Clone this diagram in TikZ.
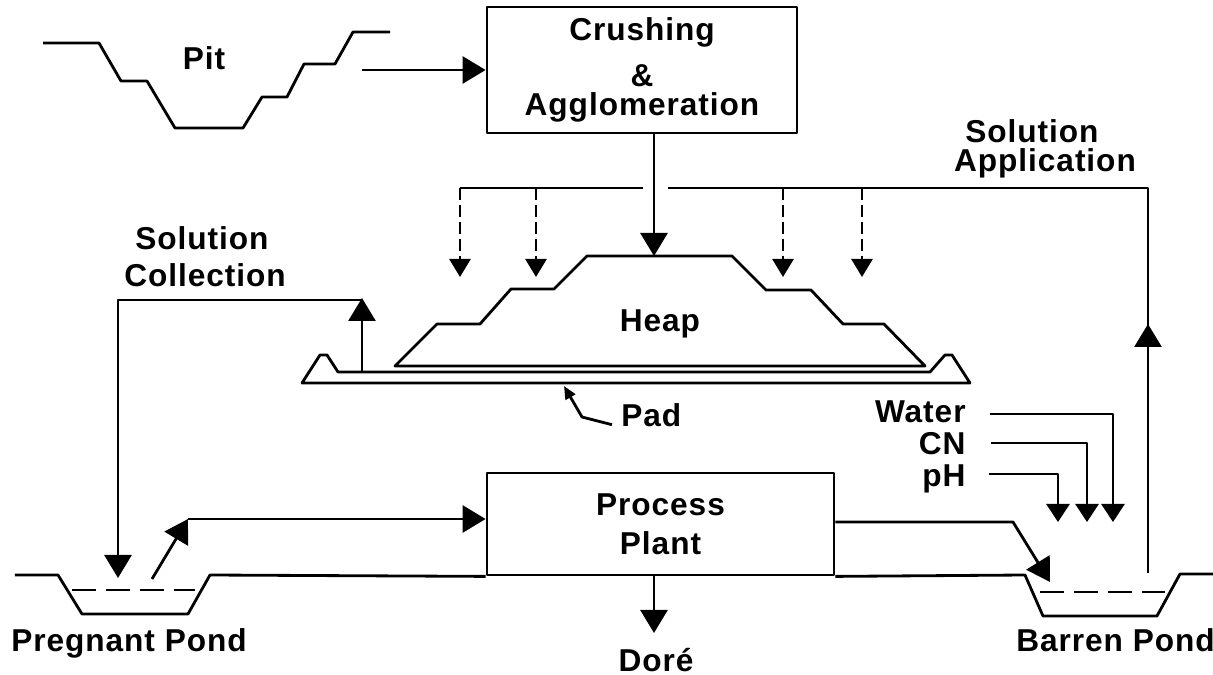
\documentclass[tikz,border=0pt]{standalone}
\usepackage{fontspec}
\setmainfont{Liberation Sans}[LetterSpace=3]
\usetikzlibrary{arrows.meta}
\usetikzlibrary{positioning}

\tikzset{
	lbl/.style={font=\fontsize{9}{10.5}\selectfont\bfseries, inner sep=0pt},
	unit/.style={draw, line width=0.8pt, inner sep=0pt, align=center, font=\fontsize{9}{10.5}\selectfont\bfseries},
	flow/.style={-{Triangle[length=2.3mm,width=2.7mm]}},
	feed/.style={-{Triangle[length=1.8mm,width=2.3mm]}},
	spray/.style={dash pattern=on 1.2mm off 0.5mm, -{Triangle[length=1.8mm,width=2.1mm]}},
	pondwater/.style={dash pattern=on 2.4mm off 1mm},
}

\begin{document}
\begin{tikzpicture}[x=0.1mm, y=-0.1mm, line width=0.8pt, line join=round]
	\useasboundingbox (0,0) rectangle (1213,675);

	% Place nodes
	\node [lbl, anchor=base] (pit) at (204,70) {Pit};
	\node [unit, minimum width=31mm, minimum height=12.6mm] (crush) at (642,70) {Crushing\\[0.9mm]\&\\[-0.8mm]Agglomeration};
	\node [lbl, anchor=base] (heap) at (660,332) {Heap};
	\node [lbl, anchor=base west] (pad) at (620,427) {Pad};
	\node [lbl, anchor=base] (sol1) at (202,250) {Solution};
	\node [lbl, anchor=base] (coll) at (205,287) {Collection};
	\node [lbl, anchor=base] (sol2) at (1032,143) {Solution};
	\node [lbl, anchor=base] (appl) at (1045,172) {Application};
	\node [lbl, anchor=base east] (water) at (967,423) {Water};
	\node [lbl, anchor=base east] (cn) at (967,455) {CN};
	\node [lbl, anchor=base east] (ph) at (967,487) {pH};
	\node [unit, minimum width=34.7mm, minimum height=10.2mm] (plant) at (660.5,524) {Process\\[0.2mm]Plant};
	\node [lbl, anchor=base] (preg) at (129,652) {Pregnant Pond};
	\node [lbl, anchor=base west] (barren) at (1015,652) {Barren Pond};
	\node [lbl, anchor=base] (dore) at (656,672) {Doré};

	\coordinate (pitout) at (362,70);
	\coordinate (heaptop) at (654,256);
	\coordinate (split) at (654,188);
	\coordinate (riser) at (1148,188);
	\coordinate (collect) at (362,372);
	\coordinate (pregin) at (118,578);
	\coordinate (pregout) at (152,579);
	\coordinate (pregup) at (188,519);
	\coordinate (plantout) at (1013,522);
	\coordinate (barrenin) at (1050,582);
	\coordinate (barrenout) at (1148,573);
	\coordinate (doretip) at (654,633);

	% open pit
	\draw (43,43) -- (99,43) -- (121,81) -- (147,81) -- (175,128) -- (243,128) -- (262,97)
		-- (287,97) -- (304,64) -- (335,64) -- (353,32) -- (390,32);

	% heap on its pad
	\draw (395,366) -- (437,324) -- (480,324) -- (511,289) -- (554,289) -- (587,256) -- (732,256)
		-- (766,290) -- (811,290) -- (843,324) -- (884,324) -- (925,366) -- cycle;
	\draw (302,383) -- (320,355) -- (327,355) -- (338,372) -- (930,372) -- (945,355) -- (952,355)
		-- (970,383) -- cycle;
	\draw [-{Triangle[length=1.3mm,width=1.1mm]}] (pad.west) ++(-0.8mm,-0.9mm) -- (582,417) -- (564,386);

	% ground and ponds
	\draw (15,575) -- (58,575) -- (82,614) -- (188,614) -- (210,575) -- (plant.south west);
	\draw (plant.south east) -- (1025,575) -- (1043,616) -- (1157,616) -- (1180,574) -- (1213,574);
	\draw [pondwater] (72,590) -- (195,590);
	\draw [pondwater] (1040,592) -- (1165,592);

	% ore to heap
	\draw [flow] (pitout) -- (crush.west |- pitout);
	\draw [flow] (crush.south -| heaptop) -- (heaptop);

	% solution application
	\draw [flow] (barrenout) -- (1148,324);
	\draw (1148,326) -- (riser) -- (668,188);
	\draw (643,188) -- (460,188);
	\foreach \x in {460,536,783,862}
		\draw [spray] (\x,188) -- (\x,277);

	% solution collection
	\draw [flow] (collect) -- (362,298);
	\draw [flow] (362,300) -- (118,300) -- (pregin);
	\draw [flow] (pregout) -- (pregup);
	\draw [flow] (pregup) -- (plant.west |- pregup);

	% plant to barren pond
	\draw [flow] (plant.east |- plantout) -- (plantout) -- (barrenin);
	\draw [flow] (plant.south -| doretip) -- (doretip);

	% make-up reagents
	\draw [feed] ([xshift=2.3mm]water.east |- 0,414) -| (1113,522);
	\draw [feed] ([xshift=2.4mm]cn.east |- 0,443) -| (1087,522);
	\draw [feed] ([xshift=2.2mm]ph.east |- 0,474) -| (1058,522);
\end{tikzpicture}
\end{document}
